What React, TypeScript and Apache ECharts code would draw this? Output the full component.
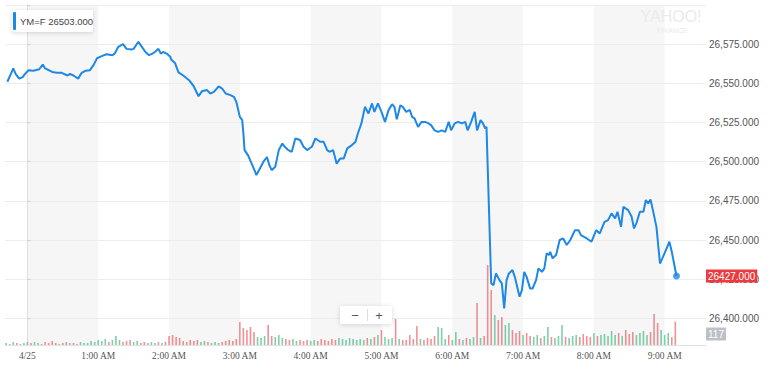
import React, { useEffect, useRef } from "react";
import * as echarts from "echarts";

// ---------- data ----------
const SYMBOL = "YM=F";
const LEGEND_VALUE = "26503.000";
const LAST_VOLUME_LABEL = "117";

// x axis in minutes from midnight (4/25)
const X_MIN = -19;
const X_MAX = 575;
const HOUR_TICKS = [0, 60, 120, 180, 240, 300, 360, 420, 480, 540];
const HOUR_LABELS = ["4/25", "1:00 AM", "2:00 AM", "3:00 AM", "4:00 AM", "5:00 AM", "6:00 AM", "7:00 AM", "8:00 AM", "9:00 AM"];
const SHADED_HOURS: [number, number][] = [[0, 60], [120, 180], [240, 300], [360, 420], [480, 540]];

const Y_MIN = 26383;
const Y_MAX = 26600;
const PRICE_TICKS = [26400, 26425, 26450, 26475, 26500, 26525, 26550, 26575];

// [minute, price]
const PRICE_POINTS: [number, number][] = [
  [-17, 26551], [-14, 26556], [-12, 26559.5], [-10, 26556], [-7, 26553], [-4, 26554], [-2, 26556],
  [1, 26558.4], [5, 26558], [10, 26559], [13, 26562], [15, 26559.5], [18, 26558.4], [21, 26557.3],
  [25, 26556.7], [29, 26556.7], [34, 26555], [36, 26556], [39, 26555], [43, 26553], [46, 26556.7],
  [49, 26558], [53, 26558.4], [56, 26561.6], [59, 26566], [62, 26567], [65, 26568], [67, 26568.6],
  [72, 26568], [74, 26569], [77, 26573.3], [81, 26575], [84, 26572], [88, 26571.6], [90, 26572],
  [93, 26575.4], [94, 26576.5], [97, 26573.3], [100, 26570], [103, 26568], [106, 26569], [108, 26570],
  [111, 26572], [113, 26569], [115, 26570], [118, 26569], [121, 26567], [122, 26565], [125, 26563],
  [128, 26557], [132, 26555], [137, 26552], [141, 26548], [145, 26541.8], [148, 26545], [152, 26545.7],
  [155, 26543.5], [158, 26544.6], [162, 26548], [165, 26546.7], [168, 26543.5], [172, 26542.5],
  [175, 26541.4], [177, 26538.2], [180, 26528.6], [182, 26526.5], [183, 26518], [184, 26507.4],
  [187, 26504], [190, 26498.8], [193, 26493.5], [194, 26491.4], [197, 26495.7], [200, 26500],
  [203, 26503], [205, 26497.8], [207, 26494.6], [210, 26496.7], [213, 26507.4], [216, 26511.6],
  [218, 26509.5], [221, 26507.4], [224, 26506.3], [227, 26514.8], [231, 26513.8], [234, 26509.5],
  [237, 26507.4], [241, 26509.5], [244, 26514.8], [248, 26512.7], [251, 26512.7], [254, 26507.4],
  [256, 26506.3], [259, 26507.4], [262, 26498.8], [265, 26502], [268, 26502], [271, 26508.5],
  [275, 26510.6], [278, 26512.7], [280, 26518], [283, 26524.4], [286, 26535], [289, 26530.8],
  [292, 26537.2], [294, 26531.8], [297, 26537.2], [300, 26531.8], [303, 26525.4], [306, 26532.9],
  [309, 26536.7], [311, 26535], [313, 26527], [316, 26536], [318, 26535], [321, 26531.8], [324, 26533],
  [326, 26528.6], [328, 26527.6], [331, 26522.2], [334, 26525.4], [337, 26525.4], [340, 26524.4],
  [342, 26523.3], [345, 26520], [348, 26519], [351, 26520], [354, 26519], [357, 26525.4], [359, 26520],
  [362, 26524.4], [365, 26525.4], [368, 26524.4], [371, 26525.4], [373, 26520], [376, 26525.4],
  [379, 26531.8], [381, 26520], [384, 26526.5], [386, 26524.4], [388, 26521.2], [389, 26522.2],
  [393, 26422.3], [395, 26421.2], [397, 26428.7], [400, 26424.4], [402, 26422.3], [404, 26406.3],
  [406, 26424.4], [408, 26428.7], [411, 26430.8], [413, 26426.5], [415, 26420.2], [417, 26413.8],
  [419, 26418], [421, 26429.7], [423, 26426.5], [426, 26419], [428, 26419], [431, 26424.4],
  [433, 26431.9], [436, 26429.7], [438, 26431.9], [440, 26441.5], [442, 26440.4], [443, 26442.5],
  [445, 26438.3], [448, 26440.4], [451, 26450], [454, 26451], [457, 26446.8], [460, 26450],
  [464, 26456.3], [467, 26456.3], [469, 26453.1], [474, 26451], [478, 26448.9], [482, 26456.3],
  [485, 26454.2], [489, 26461.6], [492, 26462.7], [495, 26467], [498, 26463.8], [500, 26468],
  [503, 26458.4], [505, 26471.2], [509, 26469.1], [512, 26464.8], [514, 26457.4], [516, 26460.6],
  [519, 26468], [522, 26468], [524, 26475.5], [526, 26473.4], [528, 26475.9], [530, 26469.1],
  [533, 26458.4], [536, 26435], [538, 26438.3], [541, 26443.6], [544, 26448.9], [546, 26442.5],
  [550, 26427],
];

// volume, one bar per 3 minutes starting at -18
const VOL_START = -18;
const VOL_STEP = 3;
const VOL_MAX = 600;
const VOLUME = [
  10, 5, 15, 10, 5, 10, 15,
  10, 15, 10, 5, 15, 10, 20, 10, 5, 10, 15, 10, 10, 5, 15, 10, 10, 20, 15, 25,
  20, 30, 15, 25, 45, 25, 15, 20, 25, 15, 20, 10, 15, 10, 15, 10, 15, 10, 15,
  45, 50, 40, 35, 20, 15, 25, 20, 25, 15, 20, 15, 10, 15, 10, 15, 20, 25, 20, 30,
  115, 85, 75, 90, 65, 40, 35, 45, 100, 45, 40, 50, 35, 30, 25, 30, 20, 25, 20, 25, 20,
  25, 20, 30, 25, 20, 30, 25, 35, 30, 25, 35, 30, 25, 30, 25, 35, 30, 40, 50, 75,
  40, 30, 35, 130, 30, 25, 25, 50, 30, 95, 30, 25, 35, 30, 45, 90, 85, 30, 50, 25, 65,
  30, 25, 35, 30, 40, 210, 35, 45, 400, 275, 150, 125, 140, 100, 110, 75, 60, 70, 50,
  60, 45, 40, 50, 35, 45, 90, 40, 35, 45, 100, 40, 35, 45, 50, 40, 55, 45, 40, 60,
  45, 50, 55, 45, 70, 50, 60, 45, 75, 55, 65, 50, 60, 70, 50, 65, 155, 110, 75, 50, 60, 40, 117,
];

// ---------- helpers ----------
function priceAt(t: number): number {
  const p = PRICE_POINTS;
  if (t <= p[0][0]) return p[0][1];
  for (let i = 1; i < p.length; i++) {
    if (t <= p[i][0]) {
      const [t0, v0] = p[i - 1];
      const [t1, v1] = p[i];
      return v0 + ((v1 - v0) * (t - t0)) / (t1 - t0);
    }
  }
  return p[p.length - 1][1];
}

const LINE_COLOR = "#1e88e5";
const UP_COLOR = "rgba(40,175,115,0.6)";
const DOWN_COLOR = "rgba(232,72,78,0.6)";

export default function App() {
  const ref = useRef<HTMLDivElement>(null);

  useEffect(() => {
    if (!ref.current) return;
    const chart = echarts.init(ref.current, undefined, { renderer: "svg" });
    const last = PRICE_POINTS[PRICE_POINTS.length - 1];

    const volData = VOLUME.map((v, i) => {
      const t = VOL_START + i * VOL_STEP;
      const up = priceAt(t + VOL_STEP / 2) >= priceAt(t - VOL_STEP / 2);
      return { value: [t, v], itemStyle: { color: up ? UP_COLOR : DOWN_COLOR } };
    });

    const option: any = {
      animation: false,
      grid: [
        { left: 5, right: 62, top: 5, bottom: 20 },
        { left: 5, right: 62, top: 225, bottom: 20 },
      ],
      xAxis: [
        {
          type: "value",
          gridIndex: 0,
          min: X_MIN,
          max: X_MAX,
          axisLine: { show: true, lineStyle: { color: "#e2e2e2" } },
          axisTick: { show: false, customValues: HOUR_TICKS },
          splitLine: { show: false },
          axisLabel: {
            customValues: HOUR_TICKS,
            formatter: (v: number) => {
              const k = HOUR_TICKS.indexOf(v);
              return k >= 0 ? HOUR_LABELS[k] : "";
            },
            color: "#555",
            fontFamily: "Liberation Serif",
            fontSize: 9.5,
            margin: 6,
          },
        },
        { type: "value", gridIndex: 1, min: X_MIN, max: X_MAX, show: false },
      ],
      yAxis: [
        {
          type: "value",
          gridIndex: 0,
          position: "right",
          min: Y_MIN,
          max: Y_MAX,
          axisLine: { show: true, lineStyle: { color: "#dedede" } },
          axisTick: { show: true, length: 3, customValues: [...PRICE_TICKS, Y_MAX], lineStyle: { color: "#cfcfcf" } },
          axisLabel: {
            customValues: PRICE_TICKS,
            formatter: (v: number) =>
              v.toLocaleString("en-US", { minimumFractionDigits: 3, maximumFractionDigits: 3 }),
            color: "#555",
            fontFamily: "Liberation Sans",
            fontSize: 10,
            margin: 3,
          },
          splitLine: { show: true, lineStyle: { color: "#ededed" } },
        },
        { type: "value", gridIndex: 1, min: 0, max: VOL_MAX, show: false },
      ],
      series: [
        {
          type: "custom",
          xAxisIndex: 0,
          yAxisIndex: 0,
          z: -1,
          silent: true,
          data: SHADED_HOURS,
          renderItem: (params: any, api: any) => {
            const a = api.coord([api.value(0), Y_MAX]);
            const b = api.coord([api.value(1), Y_MIN]);
            return {
              type: "rect",
              shape: { x: a[0], y: a[1], width: b[0] - a[0], height: b[1] - a[1] },
              style: { fill: "#f6f6f6" },
            };
          },
        },
        {
          type: "bar",
          xAxisIndex: 1,
          yAxisIndex: 1,
          barWidth: 1.6,
          z: 1,
          silent: true,
          data: volData,
        },
        {
          type: "line",
          xAxisIndex: 0,
          yAxisIndex: 0,
          z: 3,
          showSymbol: false,
          silent: true,
          lineStyle: { color: LINE_COLOR, width: 2 },
          data: PRICE_POINTS,
          markLine: {
            silent: true,
            z: 20,
            symbol: ["none", "none"],
            lineStyle: { color: "rgba(0,0,0,0)", width: 0, type: "solid" },
            data: [{ yAxis: last[1] }],
            label: {
              show: true,
              position: "end",
              distance: 0,
              formatter: last[1].toFixed(3),
              backgroundColor: "#ec3b3f",
              color: "#fff",
              opacity: 1,
              fontFamily: "Liberation Sans",
              fontSize: 10,
              lineHeight: 11,
              padding: [1, 2, 1, 2],
            },
          },
        },
        {
          type: "scatter",
          xAxisIndex: 0,
          yAxisIndex: 0,
          z: 4,
          silent: true,
          symbolSize: 7,
          itemStyle: { color: LINE_COLOR },
          data: [last],
        },
      ],
      graphic: [
        // watermark
        {
          type: "text",
          x: 671,
          y: 16,
          style: {
            text: "YAHOO!",
            fill: "#ebebeb",
            fontSize: 16,
            fontFamily: "Liberation Sans",
            align: "center",
            verticalAlign: "middle",
          },
          silent: true,
        },
        {
          type: "text",
          x: 672,
          y: 30,
          style: {
            text: "FINANCE",
            fill: "#ebebeb",
            fontSize: 7,
            fontFamily: "Liberation Sans",
            align: "center",
            verticalAlign: "middle",
          },
          silent: true,
        },
        // legend box
        {
          type: "rect",
          shape: { x: 12, y: 10, width: 81, height: 22, r: 1 },
          style: { fill: "#fff", shadowBlur: 4, shadowColor: "rgba(0,0,0,0.15)", shadowOffsetY: 1 },
          silent: true,
          z: 10,
        },
        {
          type: "rect",
          shape: { x: 13, y: 12, width: 3, height: 18, r: 1 },
          style: { fill: LINE_COLOR },
          silent: true,
          z: 11,
        },
        {
          type: "text",
          x: 20,
          y: 21,
          style: {
            text: SYMBOL + " " + LEGEND_VALUE,
            fill: "#444",
            fontSize: 9.5,
            fontFamily: "Liberation Sans",
            verticalAlign: "middle",
          },
          silent: true,
          z: 11,
        },
        // zoom control
        {
          type: "rect",
          shape: { x: 340, y: 306, width: 52, height: 18, r: 2 },
          style: { fill: "#fff", shadowBlur: 5, shadowColor: "rgba(0,0,0,0.15)", shadowOffsetY: 1 },
          silent: true,
          z: 10,
        },
        {
          type: "text",
          x: 355,
          y: 315,
          style: { text: "\u2212", fill: "#555", fontSize: 13, fontFamily: "Liberation Sans", align: "center", verticalAlign: "middle" },
          silent: true,
          z: 11,
        },
        {
          type: "line",
          shape: { x1: 367.5, y1: 309, x2: 367.5, y2: 321 },
          style: { stroke: "#ddd", lineWidth: 1 },
          silent: true,
          z: 11,
        },
        {
          type: "text",
          x: 379,
          y: 315,
          style: { text: "+", fill: "#555", fontSize: 13, fontFamily: "Liberation Sans", align: "center", verticalAlign: "middle" },
          silent: true,
          z: 11,
        },
        // volume tag
        {
          type: "text",
          x: 706,
          y: 334,
          style: {
            text: LAST_VOLUME_LABEL,
            fill: "#fff",
            fontSize: 10,
            fontFamily: "Liberation Sans",
            verticalAlign: "middle",
            backgroundColor: "#bcc0c7",
            padding: [2, 2, 1, 2],
          },
          silent: true,
          z: 11,
        },
      ],
    };

    chart.setOption(option);
    return () => chart.dispose();
  }, []);

  return (
    <div
      ref={ref}
      style={{ position: "fixed", left: 0, top: 0, width: 768, height: 365, background: "#fff" }}
    />
  );
}
